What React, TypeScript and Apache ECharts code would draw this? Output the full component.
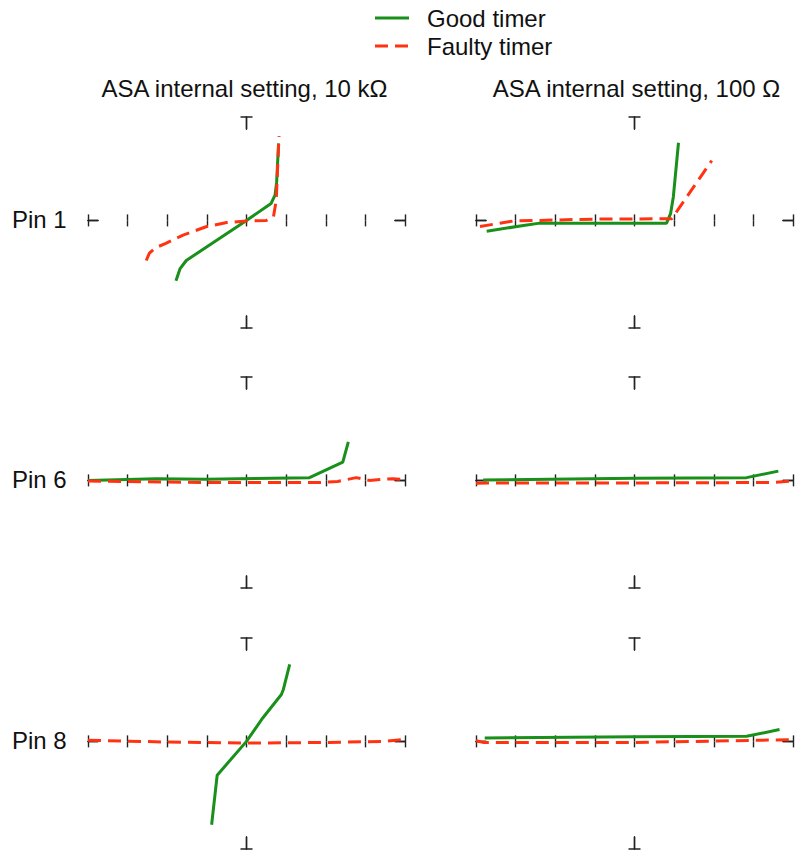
import React, { useEffect, useRef } from "react";
import * as echarts from "echarts";

// ---- data ----
const X_MIN = -4;
const X_MAX = 4;
const X_INTERVAL = 1;
const Y_MIN = -5.1;
const Y_MAX = 4.9;

const columnTitles = ["ASA internal setting, 10 kΩ", "ASA internal setting, 100 Ω"];
const rowLabels = ["Pin 1", "Pin 6", "Pin 8"];
const seriesNames = ["Good timer", "Faulty timer"];

// Pin 1
const pin1_10k_good = [[-1.78, -2.86], [-1.68, -2.3], [-1.52, -1.9], [0, 0], [0.62, 0.8], [0.72, 1.2], [0.76, 1.8], [0.81, 3.65]];
const pin1_10k_faulty = [[-2.53, -1.9], [-2.45, -1.55], [-2.3, -1.3], [-2.05, -1.1], [-1.6, -0.7], [-1.02, -0.3], [-0.5, -0.1], [0, -0.03], [0.5, 0], [0.68, 0.16], [0.75, 0.95], [0.82, 4.0]];
const pin1_100_good = [[-3.73, -0.51], [-2.8, -0.24], [-2.39, -0.13], [0.81, -0.13], [0.91, 0.32], [0.98, 1.11], [1.11, 3.68]];
const pin1_100_faulty = [[-3.9, -0.29], [-3.06, -0.03], [-1.04, 0.06], [0.94, 0.08], [1.95, 2.83]];

// Pin 6
const pin6_10k_good = [[-4.0, 0.0], [-2.28, 0.08], [-1.02, 0.05], [1.59, 0.13], [2.43, 0.87], [2.57, 1.83]];
const pin6_10k_faulty = [[-4.0, -0.03], [-1.02, -0.1], [1.84, -0.1], [2.3, -0.05], [2.77, 0.13], [3.1, 0.0], [3.69, 0.08], [3.99, 0.03]];
const pin6_100_good = [[-3.82, 0.02], [0, 0.1], [2.83, 0.13], [3.63, 0.44]];
const pin6_100_faulty = [[-4.0, -0.13], [0, -0.12], [3.5, -0.1], [3.97, -0.03]];

// Pin 8
const pin8_10k_good = [[-0.88, -3.95], [-0.74, -1.6], [0, 0], [0.41, 1.11], [0.88, 2.22], [0.93, 2.46], [1.09, 3.65]];
const pin8_10k_faulty = [[-4.0, 0.05], [-2, -0.03], [0, -0.08], [2, -0.05], [3.5, 0.0], [3.99, 0.1]];
const pin8_100_good = [[-3.78, 0.16], [0, 0.22], [2.83, 0.24], [3.66, 0.56]];
const pin8_100_faulty = [[-4.0, 0.03], [-3.8, -0.05], [0, -0.05], [3.97, 0.08]];

const panels = [
  [pin1_10k_good, pin1_10k_faulty],
  [pin1_100_good, pin1_100_faulty],
  [pin6_10k_good, pin6_10k_faulty],
  [pin6_100_good, pin6_100_faulty],
  [pin8_10k_good, pin8_10k_faulty],
  [pin8_100_good, pin8_100_faulty],
];

// ---- layout / style ----
const FONT = "'Liberation Sans', Arial, Helvetica, sans-serif";
const GREEN = "#18901a";
const RED = "#ff3312";
const AXIS_COLOR = "#222";
const COL_LEFT = [88, 476];
const ROW_TOP = [117, 377, 638];
const GRID_W = 317;
const GRID_H = 211;
const STUB = 10;
const Y_STUB = 12;
const DASH = [13, 7];

export default function App() {
  const ref = useRef<HTMLDivElement>(null);

  useEffect(() => {
    if (!ref.current) return;
    const chart = echarts.init(ref.current, undefined, { renderer: "svg" });

    const grid: any[] = [];
    const xAxis: any[] = [];
    const yAxis: any[] = [];
    const series: any[] = [];

    panels.forEach((pair, i) => {
      const row = Math.floor(i / 2);
      const col = i % 2;
      grid.push({ left: COL_LEFT[col], top: ROW_TOP[row], width: GRID_W, height: GRID_H, containLabel: false });
      ["bottom", "top"].forEach((pos) => {
        xAxis.push({
          type: "value",
          gridIndex: i,
          position: pos,
          min: X_MIN,
          max: X_MAX,
          interval: X_INTERVAL,
          axisLine: {
            show: true,
            onZero: true,
            lineStyle: { color: AXIS_COLOR, width: 1.4, type: [STUB, GRID_W - 2 * STUB, STUB] },
          },
          axisTick: { show: true, inside: false, length: 6, lineStyle: { color: AXIS_COLOR, width: 1.4 } },
          axisLabel: { show: false },
          splitLine: { show: false },
        });
      });
      ["left", "right"].forEach((pos) => {
        yAxis.push({
          type: "value",
          gridIndex: i,
          position: pos,
          min: Y_MIN,
          max: Y_MAX,
          axisLine: {
            show: true,
            onZero: true,
            lineStyle: { color: AXIS_COLOR, width: 1.4, type: [Y_STUB, GRID_H - 2 * Y_STUB, Y_STUB] },
          },
          axisTick: {
            show: true,
            inside: false,
            length: 6,
            customValues: [Y_MIN, Y_MAX],
            lineStyle: { color: AXIS_COLOR, width: 1.5 },
          },
          axisLabel: { show: false },
          splitLine: { show: false },
        });
      });
      pair.forEach((data, k) => {
        series.push({
          type: "line",
          name: seriesNames[k],
          xAxisIndex: 2 * i,
          yAxisIndex: 2 * i,
          data,
          symbol: "none",
          showSymbol: false,
          clip: false,
          z: 3 + k,
          lineStyle: { color: k === 0 ? GREEN : RED, width: 3, type: k === 0 ? "solid" : DASH },
          itemStyle: { color: k === 0 ? GREEN : RED },
        });
      });
    });

    const graphic: any[] = [];
    columnTitles.forEach((t, c) => {
      graphic.push({
        type: "text",
        x: COL_LEFT[c] + GRID_W / 2 - (c === 0 ? 2 : -2),
        y: 88,
        style: { text: t, font: `24px ${FONT}`, fill: "#111", textAlign: "center", textVerticalAlign: "middle" },
      });
    });
    rowLabels.forEach((t, r) => {
      graphic.push({
        type: "text",
        x: 12,
        y: ROW_TOP[r] + 102,
        style: { text: t, font: `24px ${FONT}`, fill: "#111", textAlign: "left", textVerticalAlign: "middle" },
      });
    });
    seriesNames.forEach((n, k) => {
      const y = 18 + k * 28;
      graphic.push({
        type: "line",
        shape: { x1: 375, y1: y, x2: 409, y2: y },
        style: { stroke: k === 0 ? GREEN : RED, lineWidth: 3, lineDash: k === 0 ? null : DASH },
      });
      graphic.push({
        type: "text",
        x: 427,
        y,
        style: { text: n, font: `24px ${FONT}`, fill: "#111", textAlign: "left", textVerticalAlign: "middle" },
      });
    });

    chart.setOption({
      animation: false,
      backgroundColor: "#ffffff",
      grid,
      xAxis,
      yAxis,
      series,
      graphic,
    });

    return () => chart.dispose();
  }, []);

  return (
    <div
      ref={ref}
      style={{ position: "fixed", left: 0, top: 0, width: 801, height: 860, background: "#fff" }}
    />
  );
}
